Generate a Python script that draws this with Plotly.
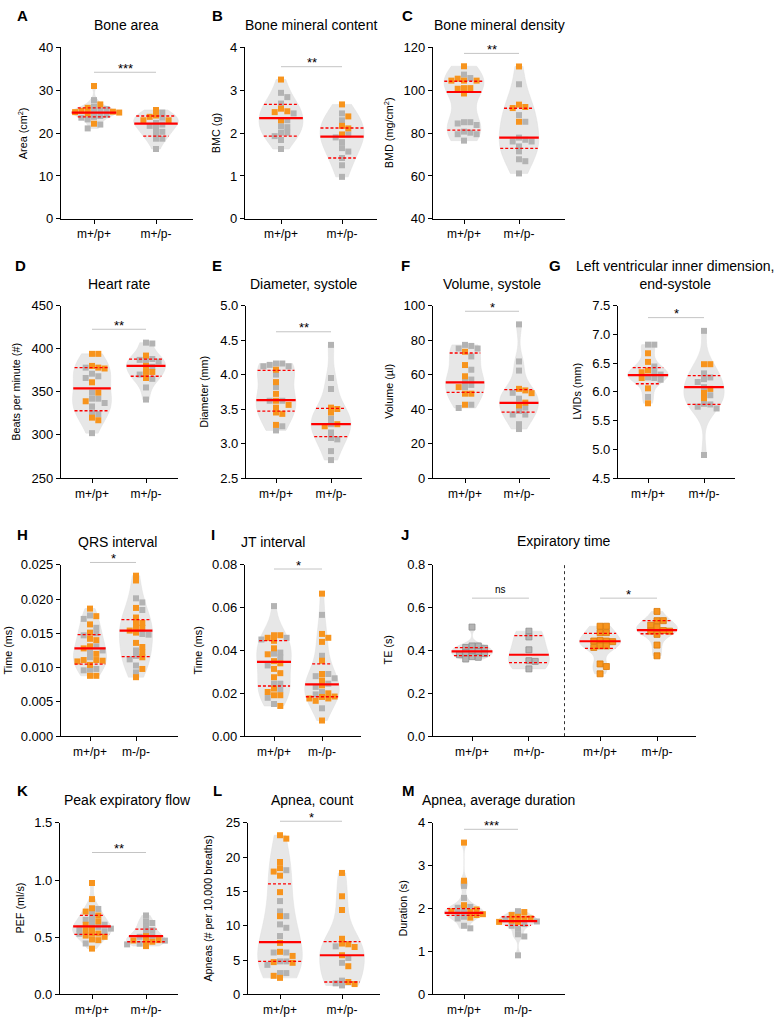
import numpy as np
import plotly.graph_objects as go

W, H = 776, 1025

# ------------------------------------------------------------------ data
CATS_PP = ["m+/p+", "m+/p-"]
CATS_MM = ["m+/p+", "m-/p-"]
CATS_J = ["m+/p+", "m+/p-", "m+/p+", "m+/p-"]

A_g1_gray = [27.7, 26.2, 25.6, 25.3, 25.0, 24.3, 24.0, 23.8, 23.6, 23.2, 22.0, 21.1]
A_g1_orange = [31.0, 26.7, 25.9, 25.2, 25.0, 24.9, 24.8, 24.6, 22.2]
A_g2_gray = [24.8, 23.6, 22.4, 22.0, 21.7, 21.2, 20.3, 19.9, 18.7, 18.7, 16.3]
A_g2_orange = [25.4, 24.1, 23.8, 23.0, 23.0]
A_stats = [[23.8, 24.8, 25.9], [19.3, 22.2, 24.0]]
A_ticks = [0, 10, 20, 30, 40]

B_g1_gray = [2.94, 2.84, 2.69, 2.46, 2.30, 2.16, 2.14, 2.01, 2.01, 1.93, 1.84, 1.63]
B_g1_orange = [3.25, 2.57, 2.51, 2.49, 2.30]
B_g2_gray = [2.46, 2.30, 1.97, 1.90, 1.79, 1.65, 1.57, 1.42, 1.25, 0.98]
B_g2_orange = [2.67, 2.39, 2.17, 2.11, 1.97]
B_stats = [[1.93, 2.35, 2.67], [1.42, 1.92, 2.12]]
B_ticks = [0, 1, 2, 3, 4]

C_g1_gray = [107.3, 105.7, 85.1, 85.1, 84.5, 83.8, 80.7, 80.2, 79.5, 79.5, 76.5]
C_g1_orange = [111.2, 105.4, 104.5, 104.5, 104.5, 101.0, 101.0, 100.7, 98.5]
C_g2_gray = [102.8, 88.4, 85.3, 77.9, 76.9, 76.1, 76.1, 73.8, 71.5, 67.8, 66.9, 61.2]
C_g2_orange = [111.1, 93.3, 92.2, 91.7, 85.3]
C_stats = [[81.4, 99.2, 104.2], [72.9, 77.9, 91.6]]
C_ticks = [40, 60, 80, 100, 120]

D_g1_gray = [378, 371, 368, 366, 349, 342, 342, 337, 333, 326, 324, 302]
D_g1_orange = [394, 394, 380, 378, 377, 361, 349, 339, 320, 317]
D_g2_gray = [407, 406, 388, 387, 386, 385, 379, 370, 365, 355, 341]
D_g2_orange = [392, 380, 373, 373, 366]
D_stats = [[328, 354, 378], [368, 380, 388]]
D_ticks = [250, 300, 350, 400, 450]

E_g1_gray = [4.16, 4.16, 4.14, 4.12, 4.12, 4.00, 3.82, 3.62, 3.62, 3.25, 3.19]
E_g1_orange = [4.07, 3.89, 3.72, 3.62, 3.56, 3.52, 3.45, 3.43, 3.27]
E_g2_gray = [4.43, 3.95, 3.79, 3.36, 3.28, 3.16, 3.08, 3.06, 2.89, 2.76]
E_g2_orange = [3.52, 3.50, 3.45, 3.28, 3.25]
E_stats = [[3.47, 3.63, 4.06], [3.10, 3.28, 3.51]]
E_ticks = [2.5, 3.0, 3.5, 4.0, 4.5, 5.0]

F_g1_gray = [77.2, 76.6, 75.1, 75.1, 70.5, 62.8, 57.1, 55.9, 54.0, 52.7, 42.5, 40.6]
F_g1_orange = [73.2, 65.5, 59.0, 52.7, 48.9, 48.9, 42.5]
F_g2_gray = [89.1, 67.6, 62.3, 49.4, 46.0, 40.8, 38.9, 36.8, 36.8, 31.2, 28.4]
F_g2_orange = [51.7, 50.8, 49.2, 43.7, 42.1]
F_stats = [[49.7, 55.5, 72.5], [38.2, 43.6, 51.3]]
F_ticks = [0, 20, 40, 60, 80, 100]

G_g1_gray = [6.82, 6.82, 6.44, 6.34, 6.30, 6.25, 6.24, 6.21, 5.91]
G_g1_orange = [6.67, 6.52, 6.37, 6.34, 6.24, 6.06, 5.80]
G_g2_gray = [7.06, 6.32, 6.25, 6.22, 6.17, 6.08, 5.94, 5.79, 5.78, 5.74, 5.71, 4.90]
G_g2_orange = [6.48, 6.48, 6.05, 5.98, 5.89]
G_stats = [[6.14, 6.29, 6.42], [5.78, 6.08, 6.28]]
G_ticks = [4.5, 5.0, 5.5, 6.0, 6.5, 7.0, 7.5]

H_g1_gray = [0.0176, 0.0171, 0.0158, 0.0150, 0.0147, 0.0131, 0.0125, 0.0122, 0.0115,
             0.0098, 0.0097, 0.0096]
H_g1_orange = [0.0186, 0.0175, 0.0163, 0.0151, 0.0142, 0.0140, 0.0131, 0.0128, 0.0120,
               0.0111, 0.0111, 0.0110, 0.0109, 0.0104, 0.0088, 0.0088]
H_g2_gray = [0.0201, 0.0195, 0.0184, 0.0149, 0.0148, 0.0125, 0.0117, 0.0112, 0.0103, 0.0093]
H_g2_orange = [0.0234, 0.0227, 0.0187, 0.0173, 0.0166, 0.0165, 0.0159, 0.0158, 0.0154,
               0.0151, 0.0136, 0.0130, 0.0122, 0.0115, 0.0098, 0.0086]
H_stats = [[0.0105, 0.0128, 0.0148], [0.0116, 0.0154, 0.0170]]
H_ticks = [0.0, 0.005, 0.010, 0.015, 0.020, 0.025]

I_g1_gray = [0.0607, 0.0459, 0.0451, 0.0390, 0.0385, 0.0367, 0.0330, 0.0245, 0.0245,
             0.0217, 0.0179, 0.0150]
I_g1_orange = [0.0471, 0.0471, 0.0459, 0.0445, 0.0410, 0.0382, 0.0350, 0.0340, 0.0314,
               0.0294, 0.0275, 0.0222, 0.0206, 0.0191, 0.0191, 0.0141]
I_g2_gray = [0.0566, 0.0375, 0.0290, 0.0280, 0.0270, 0.0245, 0.0230, 0.0206, 0.0195, 0.0130]
I_g2_orange = [0.0665, 0.0477, 0.0459, 0.0440, 0.0352, 0.0290, 0.0260, 0.0237, 0.0200,
               0.0185, 0.0183, 0.0176, 0.0176, 0.0165, 0.0073]
I_stats = [[0.0234, 0.0347, 0.0446], [0.0184, 0.0242, 0.0337]]
I_ticks = [0.00, 0.02, 0.04, 0.06, 0.08]

J_g1_gray = [0.509, 0.421, 0.421, 0.414, 0.410, 0.398, 0.395, 0.391, 0.385, 0.380,
             0.371, 0.368, 0.360]
J_g2_gray = [0.490, 0.463, 0.403, 0.352, 0.349, 0.314]
J_g3_orange = [0.513, 0.513, 0.483, 0.483, 0.447, 0.444, 0.444, 0.441, 0.421, 0.421,
               0.414, 0.337, 0.325, 0.291]
J_g4_orange = [0.582, 0.539, 0.539, 0.518, 0.509, 0.493, 0.490, 0.490, 0.475, 0.425, 0.375]
J_stats = [[0.376, 0.396, 0.413], [0.343, 0.380, 0.469],
           [0.410, 0.443, 0.480], [0.478, 0.495, 0.539]]
J_ticks = [0.0, 0.2, 0.4, 0.6, 0.8]

K_g1_gray = [0.747, 0.710, 0.664, 0.652, 0.620, 0.609, 0.590, 0.575, 0.575, 0.552,
             0.530, 0.445]
K_g1_orange = [0.974, 0.833, 0.753, 0.724, 0.690, 0.638, 0.609, 0.575, 0.560, 0.532,
               0.532, 0.514, 0.503, 0.480, 0.474, 0.400]
K_g2_gray = [0.690, 0.638, 0.624, 0.595, 0.560, 0.552, 0.509, 0.503, 0.470, 0.443, 0.437]
K_g2_orange = [0.509, 0.474, 0.471, 0.466, 0.460, 0.422]
K_stats = [[0.525, 0.595, 0.690], [0.460, 0.510, 0.570]]
K_ticks = [0.0, 0.5, 1.0, 1.5]

L_g1_gray = [18.1, 13.6, 12.1, 11.4, 10.2, 9.7, 8.5, 6.1, 6.1, 4.8, 4.8, 4.3, 3.1, 3.1]
L_g1_orange = [23.2, 22.7, 19.3, 18.4, 17.9, 17.3, 14.9, 11.4, 7.5, 6.2, 5.6, 4.7, 4.6,
               2.7, 2.4]
L_g2_gray = [7.0, 5.3, 4.6, 2.0, 1.6, 1.3]
L_g2_orange = [17.7, 14.3, 12.3, 8.1, 7.4, 7.3, 6.9, 5.7, 4.1, 1.8, 1.5]
L_stats = [[4.8, 7.6, 16.1], [1.8, 5.7, 7.7]]
L_ticks = [0, 5, 10, 15, 20, 25]

M_g1_gray = [2.53, 2.25, 2.04, 2.02, 1.96, 1.90, 1.81, 1.77, 1.60, 1.54]
M_g1_orange = [3.54, 2.65, 2.08, 1.98, 1.94, 1.92, 1.87, 1.85, 1.79]
M_g2_gray = [1.94, 1.75, 1.70, 1.64, 1.60, 1.53, 1.40, 1.35, 0.91]
M_g2_orange = [1.92, 1.85, 1.81, 1.77, 1.77, 1.72, 1.69, 1.69]
M_stats = [[1.84, 1.90, 2.00], [1.61, 1.71, 1.81]]
M_ticks = [0, 1, 2, 3, 4]

# ------------------------------------------------------------------ panel content
panels = [
    dict(letter="A", title="Bone area", ytitle="Area (cm<sup>2</sup>)", cats=CATS_PP,
         gray=[A_g1_gray, A_g2_gray], orange=[A_g1_orange, A_g2_orange],
         stats=A_stats, ticks=A_ticks, sig=["***"]),
    dict(letter="B", title="Bone mineral content", ytitle="BMC (g)", cats=CATS_PP,
         gray=[B_g1_gray, B_g2_gray], orange=[B_g1_orange, B_g2_orange],
         stats=B_stats, ticks=B_ticks, sig=["**"]),
    dict(letter="C", title="Bone mineral density", ytitle="BMD (mg/cm<sup>2</sup>)", cats=CATS_PP,
         gray=[C_g1_gray, C_g2_gray], orange=[C_g1_orange, C_g2_orange],
         stats=C_stats, ticks=C_ticks, sig=["**"]),
    dict(letter="D", title="Heart rate", ytitle="Beats per minute (#)", cats=CATS_PP,
         gray=[D_g1_gray, D_g2_gray], orange=[D_g1_orange, D_g2_orange],
         stats=D_stats, ticks=D_ticks, sig=["**"]),
    dict(letter="E", title="Diameter, systole", ytitle="Diameter (mm)", cats=CATS_PP,
         gray=[E_g1_gray, E_g2_gray], orange=[E_g1_orange, E_g2_orange],
         stats=E_stats, ticks=E_ticks, sig=["**"]),
    dict(letter="F", title="Volume, systole", ytitle="Volume (µl)", cats=CATS_PP,
         gray=[F_g1_gray, F_g2_gray], orange=[F_g1_orange, F_g2_orange],
         stats=F_stats, ticks=F_ticks, sig=["*"]),
    dict(letter="G", title="Left ventricular inner dimension,<br>end-systole",
         ytitle="LVIDs (mm)", cats=CATS_PP,
         gray=[G_g1_gray, G_g2_gray], orange=[G_g1_orange, G_g2_orange],
         stats=G_stats, ticks=G_ticks, sig=["*"]),
    dict(letter="H", title="QRS interval", ytitle="Time (ms)", cats=CATS_MM,
         gray=[H_g1_gray, H_g2_gray], orange=[H_g1_orange, H_g2_orange],
         stats=H_stats, ticks=H_ticks, sig=["*"]),
    dict(letter="I", title="JT interval", ytitle="Time (ms)", cats=CATS_MM,
         gray=[I_g1_gray, I_g2_gray], orange=[I_g1_orange, I_g2_orange],
         stats=I_stats, ticks=I_ticks, sig=["*"]),
    dict(letter="J", title="Expiratory time", ytitle="TE (s)", cats=CATS_J,
         gray=[J_g1_gray, J_g2_gray, [], []], orange=[[], [], J_g3_orange, J_g4_orange],
         stats=J_stats, ticks=J_ticks, sig=["ns", "*"]),
    dict(letter="K", title="Peak expiratory flow", ytitle="PEF (ml/s)", cats=CATS_PP,
         gray=[K_g1_gray, K_g2_gray], orange=[K_g1_orange, K_g2_orange],
         stats=K_stats, ticks=K_ticks, sig=["**"]),
    dict(letter="L", title="Apnea, count", ytitle="Apneas (# per 10,000 breaths)", cats=CATS_PP,
         gray=[L_g1_gray, L_g2_gray], orange=[L_g1_orange, L_g2_orange],
         stats=L_stats, ticks=L_ticks, sig=["*"]),
    dict(letter="M", title="Apnea, average duration", ytitle="Duration (s)", cats=CATS_MM,
         gray=[M_g1_gray, M_g2_gray], orange=[M_g1_orange, M_g2_orange],
         stats=M_stats, ticks=M_ticks, sig=["***"]),
]

# ------------------------------------------------------------------ geometry (pixels)
geom = {
    "A": dict(x0=61, x1=193, cat=[94, 156], top=41, bot=215, let=(22, 9), tit=(126, 18), ytx=23, sigy=[34.2], fmt="d"),
    "B": dict(x0=245, x1=377, cat=[281, 342], top=41, bot=215, let=(217, 9), tit=(311, 18), ytx=216, sigy=[3.55], fmt="d"),
    "C": dict(x0=433, x1=565, cat=[464, 519], top=41, bot=215, let=(407, 9), tit=(499, 18), ytx=389, sigy=[117.2], fmt="d"),
    "D": dict(x0=61, x1=178, cat=[92, 146], top=303, bot=478, let=(20, 262), tit=(119, 281), ytx=16, sigy=[422.5], fmt="d"),
    "E": dict(x0=246, x1=362, cat=[276, 331], top=303, bot=478, let=(217, 262), tit=(304, 281), ytx=204, sigy=[4.62], fmt=".1f"),
    "F": dict(x0=433, x1=550, cat=[465, 519], top=303, bot=478, let=(405, 262), tit=(492, 281), ytx=389, sigy=[96.7], fmt="d"),
    "G": dict(x0=618, x1=735, cat=[648, 704], top=303, bot=478, let=(555, 262), tit=(675, 272), ytx=577, sigy=[7.29], fmt=".1f"),
    "H": dict(x0=61, x1=178, cat=[90, 136], top=566, bot=740, let=(22, 535), tit=(118, 543), ytx=8, sigy=[0.02533], fmt=".3f"),
    "I": dict(x0=245, x1=361, cat=[274, 322], top=566, bot=740, let=(213, 535), tit=(273, 543), ytx=198, sigy=[0.078], fmt=".2f"),
    "J": dict(x0=433, x1=696, cat=[472, 529, 601, 657], pos=[0, 1, 2.25, 3.25], top=566, bot=740,
              let=(405, 535), tit=(564, 542), ytx=388, sigy=[0.644, 0.644], fmt=".1f"),
    "K": dict(x0=60, x1=178, cat=[92, 146], top=828, bot=1002, let=(22, 795), tit=(127, 805), ytx=20, sigy=[1.241], fmt=".1f"),
    "L": dict(x0=248, x1=380, cat=[280, 342], top=828, bot=1002, let=(217, 795), tit=(312, 805), ytx=208, sigy=[25.24], fmt="d"),
    "M": dict(x0=433, x1=565, cat=[464, 518], top=828, bot=1002, let=(408, 795), tit=(498, 805), ytx=403, sigy=[3.85], fmt="d"),
}

GRAY = "#b3b3b3"
ORANGE = "#f7941d"
VIOLIN_FILL = "#e7e7e7"
RED = "#ff0000"
FONT = "Arial, Liberation Sans, Helvetica, sans-serif"
VW = 0.72          # violin full width in category units
MSIZE = 6
SPX, SPY = 6.3, 4.8  # beeswarm spacing in px


def swarm_offsets(vals, py_per_unit):
    """Simple beeswarm: returns horizontal pixel offsets."""
    order = np.argsort(vals)[::-1]
    placed = []
    offs = np.zeros(len(vals))
    seq = [0]
    for k in range(1, 20):
        seq += [k, -k]
    for i in order:
        ypx = vals[i] * py_per_unit
        for k in seq:
            dx = k * SPX
            if all(abs(dx - px) >= SPX * 0.98 or abs(ypx - py) >= SPY for px, py in placed):
                placed.append((dx, ypx))
                offs[i] = dx
                break
    return offs


def kde_halfwidth(vals, ys, width):
    v = np.asarray(vals, float)
    n = len(v)
    sd = v.std(ddof=1)
    q1, q3 = np.percentile(v, [25, 75], method="hazen")
    a = min(sd, (q3 - q1) / 1.349)
    if a <= 0:
        a = sd
    bw = 1.059 * a * n ** -0.2
    grid = np.linspace(v.min(), v.max(), 400)

    def dens(t):
        t = np.atleast_1d(np.asarray(t, float))
        return np.exp(-0.5 * ((t[:, None] - v[None, :]) / bw) ** 2).sum(1)

    dmax = dens(grid).max()
    return width / 2 * dens(ys) / dmax


fig = go.Figure()
annotations = []
shapes = []
layout = {}

for idx, p in enumerate(panels, start=1):
    g = geom[p["letter"]]
    xa = "x" if idx == 1 else f"x{idx}"
    ya = "y" if idx == 1 else f"y{idx}"
    pos = g.get("pos", list(range(len(p["cats"]))))
    u = (g["cat"][-1] - g["cat"][0]) / (pos[-1] - pos[0])   # px per x unit
    xr = [pos[0] + (g["x0"] - g["cat"][0]) / u, pos[0] + (g["x1"] - g["cat"][0]) / u]
    ticks = p["ticks"]
    yr = [ticks[0], ticks[-1]]
    pyu = (g["bot"] - g["top"]) / (yr[1] - yr[0])
    j_style = p["letter"] == "J"

    # violins
    for gi, xp in enumerate(pos):
        vals = list(p["gray"][gi]) + list(p["orange"][gi])
        fig.add_trace(go.Violin(
            x=[xp] * len(vals), y=vals, xaxis=xa, yaxis=ya, width=VW,
            scalemode="width", spanmode="hard", points=False,
            fillcolor=VIOLIN_FILL, line=dict(color="#dedede", width=0.5),
            box_visible=False, meanline_visible=False, showlegend=False,
            hoverinfo="skip", opacity=1))

    # points (beeswarm)
    for gi, xp in enumerate(pos):
        gv = list(p["gray"][gi])
        ov = list(p["orange"][gi])
        allv = np.array(gv + ov, float)
        offs = swarm_offsets(allv, pyu) / u
        ng = len(gv)
        for vals, o, col, lc in [(gv, offs[:ng], GRAY, "#8f8f8f"),
                                 (ov, offs[ng:], ORANGE, "#d97a0a")]:
            if not vals:
                continue
            fig.add_trace(go.Scatter(
                x=xp + o, y=vals, xaxis=xa, yaxis=ya, mode="markers",
                marker=dict(symbol="square", size=MSIZE, color=col,
                            line=dict(width=0.8 if j_style else 0, color=lc)),
                showlegend=False, hoverinfo="skip", cliponaxis=False))

    # median / quartile lines
    mx, my, qx, qy = [], [], [], []
    for gi, xp in enumerate(pos):
        vals = list(p["gray"][gi]) + list(p["orange"][gi])
        q1, med, q3 = p["stats"][gi]
        hw = kde_halfwidth(vals, [q1, med, q3], VW)
        hw = np.maximum(hw, 0.12)
        mx += [xp - hw[1], xp + hw[1], None]
        my += [med, med, None]
        for k, q in [(0, q1), (2, q3)]:
            qx += [xp - hw[k], xp + hw[k], None]
            qy += [q, q, None]
    fig.add_trace(go.Scatter(x=qx, y=qy, xaxis=xa, yaxis=ya, mode="lines",
                             line=dict(color=RED, width=1.3, dash="3px,2px"),
                             showlegend=False, hoverinfo="skip"))
    fig.add_trace(go.Scatter(x=mx, y=my, xaxis=xa, yaxis=ya, mode="lines",
                             line=dict(color=RED, width=2.2),
                             showlegend=False, hoverinfo="skip"))

    # axes
    layout["xaxis" if idx == 1 else f"xaxis{idx}"] = dict(
        domain=[g["x0"] / W, g["x1"] / W], range=xr, anchor=ya,
        showline=True, linecolor="black", linewidth=1.3, mirror=False,
        ticks="outside", ticklen=4, tickwidth=1.3, tickcolor="black",
        tickvals=pos, ticktext=p["cats"], tickfont=dict(size=12, color="black", family=FONT),
        showgrid=False, zeroline=False, fixedrange=True)
    layout["yaxis" if idx == 1 else f"yaxis{idx}"] = dict(
        domain=[1 - g["bot"] / H, 1 - g["top"] / H], range=yr, anchor=xa,
        showline=True, linecolor="black", linewidth=1.3,
        ticks="outside", ticklen=4, tickwidth=1.3, tickcolor="black",
        tickvals=ticks, tickformat=g["fmt"], tickfont=dict(size=13, color="black", family=FONT),
        showgrid=False, zeroline=False, fixedrange=True)

    # letter, title, y title
    annotations.append(dict(x=g["let"][0] / W, y=1 - g["let"][1] / H, xref="paper", yref="paper",
                            text=f"<b>{p['letter']}</b>", showarrow=False,
                            font=dict(size=15, color="black", family=FONT),
                            xanchor="center", yanchor="middle"))
    annotations.append(dict(x=g["tit"][0] / W, y=1 - g["tit"][1] / H, xref="paper", yref="paper",
                            text=p["title"], showarrow=False,
                            font=dict(size=14, color="black", family=FONT),
                            xanchor="center", yanchor="middle"))
    annotations.append(dict(x=g["ytx"] / W, y=1 - (g["top"] + g["bot"]) / 2 / H,
                            xref="paper", yref="paper", text=p["ytitle"], textangle=-90,
                            showarrow=False, font=dict(size=10.8, color="black", family=FONT),
                            xanchor="center", yanchor="middle"))

    # significance bars (axis-domain refs so they may sit just above the axis top)
    def xdom(v):
        return (v - xr[0]) / (xr[1] - xr[0])

    def ydom(v):
        return (v - yr[0]) / (yr[1] - yr[0])

    for si, label in enumerate(p["sig"]):
        a, b = pos[2 * si], pos[2 * si + 1]
        sy = g["sigy"][si]
        shapes.append(dict(type="line", xref=f"{xa} domain", yref=f"{ya} domain",
                           x0=xdom(a), x1=xdom(b), y0=ydom(sy), y1=ydom(sy),
                           line=dict(color="#c4c4c4", width=1)))
        is_ns = label == "ns"
        annotations.append(dict(x=xdom((a + b) / 2), y=ydom(sy),
                                xref=f"{xa} domain", yref=f"{ya} domain", text=label,
                                showarrow=False, yshift=9 if is_ns else 4,
                                font=dict(size=10 if is_ns else 13, color="black", family=FONT),
                                xanchor="center", yanchor="middle"))

    if j_style:
        shapes.append(dict(type="line", xref=xa, yref=ya, x0=1.625, x1=1.625,
                           y0=yr[0], y1=yr[1], line=dict(color="#333333", width=1, dash="dot")))

fig.update_layout(**layout)
fig.update_layout(
    width=W, height=H, margin=dict(l=0, r=0, t=0, b=0),
    paper_bgcolor="white", plot_bgcolor="rgba(0,0,0,0)",
    violinmode="overlay", showlegend=False,
    annotations=annotations, shapes=shapes,
    font=dict(family=FONT, color="black"),
)

fig.write_html("out.html", post_script="document.body.style.margin='0';",
               config={"displayModeBar": False})
